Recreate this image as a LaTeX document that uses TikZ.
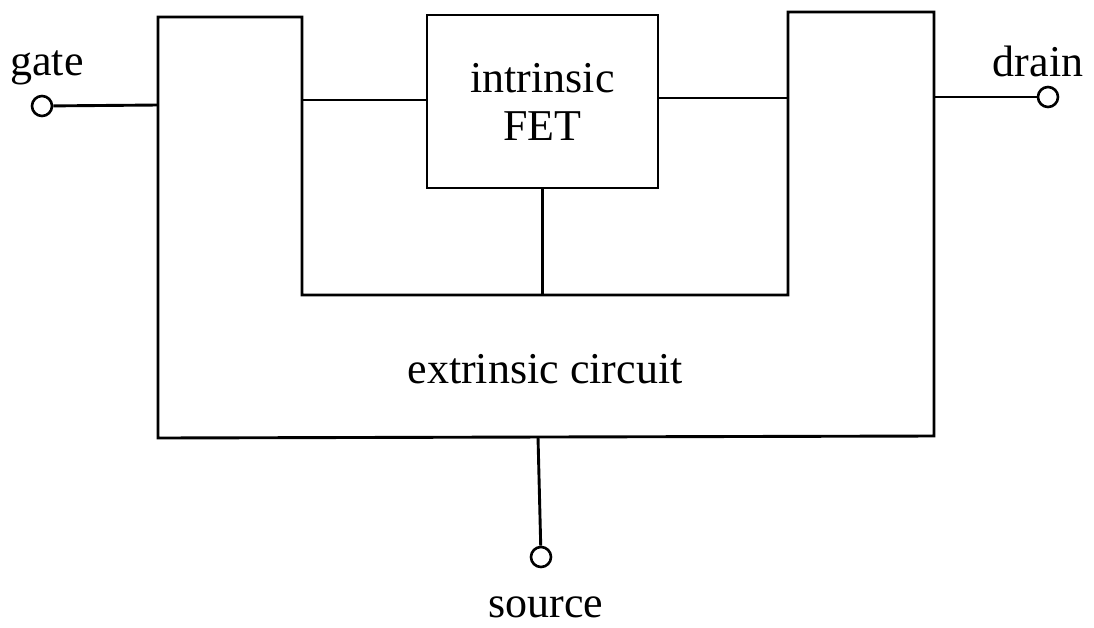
\documentclass[tikz,border=0pt]{standalone}
\usepackage{fontspec}
\setmainfont{Liberation Serif}
\begin{document}
\begin{tikzpicture}[x=1pt,y=-1pt,
  wire/.style={line width=2.9pt, line join=miter},
  term/.style={circle, draw, line width=2.6pt, minimum size=20pt, inner sep=0pt, fill=white},
  lbl/.style={font=\fontsize{44}{48}\selectfont, inner sep=0pt},
  fetbox/.style={draw, line width=2.9pt, minimum width=231pt, minimum height=173pt, align=center, font=\fontsize{44}{48}\selectfont, inner sep=0pt}]
\useasboundingbox (0,0) rectangle (1094,627);
% extrinsic circuit outline corners
\coordinate (o1) at (158,17);
\coordinate (o2) at (302,17);
\coordinate (o3) at (302,295);
\coordinate (o4) at (788,295);
\coordinate (o5) at (788,12);
\coordinate (o6) at (934,12);
\coordinate (o7) at (934,436);
\coordinate (o8) at (158,438);
\draw[wire] (o1) -- (o2) -- (o3) -- (o4) -- (o5) -- (o6) -- (o7) -- (o8) -- cycle;
% intrinsic FET
\node[fetbox] (fet) at (542.5,101.5) {intrinsic\\FET};
% attachment points on the extrinsic outline
\coordinate (gin) at (158,105);
\coordinate (il) at (302,100);
\coordinate (ir) at (788,98);
\coordinate (ib) at (fet.south |- o3);
\coordinate (din) at (934,97);
\coordinate (sin) at (538,437);
% terminals
\node[term] (gate) at (42,106) {};
\node[term] (drain) at (1048,97) {};
\node[term] (source) at (541,557) {};
% connectors
\draw[wire] (gate) -- (gin);
\draw[wire] (il) -- (fet.west |- il);
\draw[wire] (fet.east |- ir) -- (ir);
\draw[wire] (fet.south) -- (ib);
\draw[wire] (din) -- (drain);
\draw[wire] (sin) -- (source);
% labels
\node[lbl, anchor=base] (gl) at (47,75) {gate};
\node[lbl, anchor=base] (dl) at (1038,76) {drain};
\node[lbl, anchor=base] (sl) at (546,617) {source};
\node[lbl, anchor=base] (el) at (545,383) {extrinsic circuit};
\end{tikzpicture}
\end{document}
